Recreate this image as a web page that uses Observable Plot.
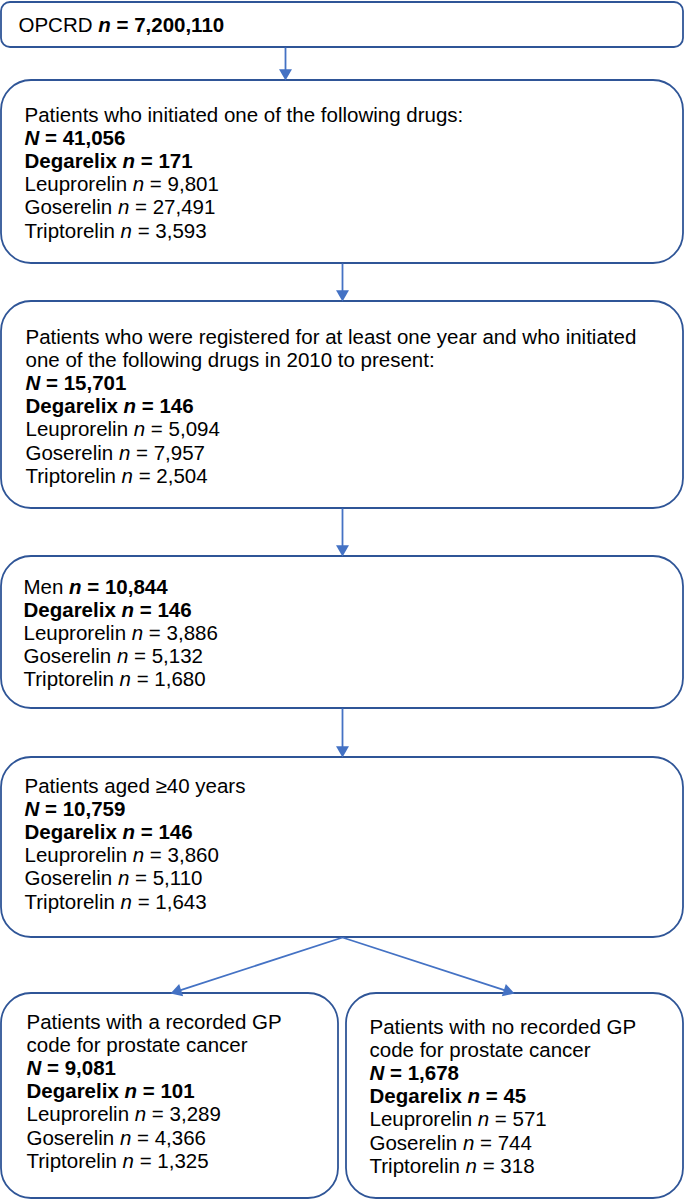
<!DOCTYPE html>
<html><head><meta charset="utf-8">
<script src="https://cdn.jsdelivr.net/npm/d3@7"></script>
<script src="https://cdn.jsdelivr.net/npm/@observablehq/plot@0.6"></script>
<style>
body{margin:0;background:#fff;}
svg text{white-space:pre;}
</style>
</head><body><div id="chart"></div>
<script>
// ---------------- data ----------------
const stageLabels = [
  ["OPCRD"],
  ["Patients who initiated one of the following drugs:"],
  ["Patients who were registered for at least one year and who initiated", "one of the following drugs in 2010 to present:"],
  ["Men"],
  ["Patients aged \u226540 years"],
  ["Patients with a recorded GP", "code for prostate cancer"],
  ["Patients with no recorded GP", "code for prostate cancer"]
];
const totalSymbol = ["n", "N", "N", "n", "N", "N", "N"];
const totalInline = [true, false, false, true, false, false, false];
const totals = [7200110, 41056, 15701, 10844, 10759, 9081, 1678];
const drugs = ["Degarelix", "Leuprorelin", "Goserelin", "Triptorelin"];
const degarelix   = [null, 171, 146, 146, 146, 101, 45];
const leuprorelin = [null, 9801, 5094, 3886, 3860, 3289, 571];
const goserelin   = [null, 27491, 7957, 5132, 5110, 4366, 744];
const triptorelin = [null, 3593, 2504, 1680, 1643, 1325, 318];
const flowFrom = [0, 1, 2, 3, 4, 4];
const flowTo   = [1, 2, 3, 4, 5, 6];

// ---------------- layout ----------------
const W = 685, H = 1201;
const LH = 23.2;
const boxStroke = "#2F5597", arrowColor = "#4472C4";
const layout = [
  {x1: 1,   x2: 683, y1: 2,   y2: 47,   r: 9,  tx: 18,  ty: 31,   inX: null, outX: 285},
  {x1: 1,   x2: 683, y1: 80,  y2: 263,  r: 30, tx: 24,  ty: 121,  inX: 285,  outX: 342},
  {x1: 1,   x2: 683, y1: 301, y2: 508,  r: 30, tx: 25,  ty: 343,  inX: 342,  outX: 342},
  {x1: 1,   x2: 683, y1: 556, y2: 708,  r: 30, tx: 23,  ty: 593,  inX: 342,  outX: 342},
  {x1: 1,   x2: 683, y1: 757, y2: 937,  r: 30, tx: 24,  ty: 792,  inX: 342,  outX: 342},
  {x1: 1,   x2: 338, y1: 993, y2: 1198, r: 30, tx: 26,  ty: 1028, inX: 170,  outX: null},
  {x1: 346, x2: 683, y1: 993, y2: 1198, r: 30, tx: 369, ty: 1033, inX: 514,  outX: null}
];

const fmt = d3.format(",");
const counts = [degarelix, leuprorelin, goserelin, triptorelin];

// text lines
const lineData = [];
stageLabels.forEach((labels, b) => {
  const L = layout[b];
  const lines = [];
  labels.forEach((t, j) => {
    if (totalInline[b] && j === labels.length - 1)
      lines.push([[t + " ", ""], [totalSymbol[b], "bi"], [" = " + fmt(totals[b]), "b"]]);
    else lines.push([[t, ""]]);
  });
  if (!totalInline[b]) lines.push([[totalSymbol[b], "bi"], [" = " + fmt(totals[b]), "b"]]);
  drugs.forEach((d, k) => {
    const v = counts[k][b];
    if (v == null) return;
    const bold = k === 0;
    lines.push([[d + " ", bold ? "b" : ""], ["n", bold ? "bi" : "i"], [" = " + fmt(v), bold ? "b" : ""]]);
  });
  lines.forEach((segs, i) => lineData.push({
    x: L.tx, y: L.ty + i * LH, segs, text: segs.map(s => s[0]).join("")
  }));
});

// arrows
const headR = 4.8;
const triHalf = Math.sqrt(Math.PI * headR * headR / (3 * Math.sqrt(3)));
const arrowData = flowFrom.map((f, i) => {
  const s = layout[f], t = layout[flowTo[i]];
  const x1 = s.outX, y1 = s.y2, x2 = t.inX, y2 = t.y1;
  const len = Math.hypot(x2 - x1, y2 - y1);
  const ux = (x2 - x1) / len, uy = (y2 - y1) / len;
  return {
    x1, y1, x2, y2,
    sx2: x2 - ux * 2 * triHalf, sy2: y2 - uy * 2 * triHalf,
    hx: x2 - ux * 2 * triHalf, hy: y2 - uy * 2 * triHalf,
    angle: Math.atan2(ux, -uy) * 180 / Math.PI
  };
});

const smallBoxes = layout.filter(d => d.r < 20);
const bigBoxes = layout.filter(d => d.r >= 20);

const plot = Plot.plot({
  width: W, height: H,
  margin: 0,
  x: {domain: [0, W], range: [0, W], axis: null},
  y: {domain: [0, H], range: [0, H], axis: null},
  style: {fontFamily: "'Liberation Sans', Arial, sans-serif", fontSize: "20.5px", background: "#fff", color: "#000"},
  marks: [
    Plot.rect(smallBoxes, {x1: "x1", x2: "x2", y1: "y1", y2: "y2", rx: 9, fill: "#fff", stroke: boxStroke, strokeWidth: 1.8}),
    Plot.rect(bigBoxes, {x1: "x1", x2: "x2", y1: "y1", y2: "y2", rx: 30, fill: "#fff", stroke: boxStroke, strokeWidth: 1.8}),
    Plot.link(arrowData, {x1: "x1", y1: "y1", x2: "sx2", y2: "sy2", stroke: arrowColor, strokeWidth: 1.8}),
    Plot.dot(arrowData, {x: "hx", y: "hy", symbol: "triangle", r: headR, fill: arrowColor, stroke: "none", rotate: "angle"}),
    Plot.text(lineData, {x: "x", y: "y", text: "text", textAnchor: "start", lineAnchor: "bottom", fontSize: 20.5, fill: "#000"})
  ]
});

plot.querySelectorAll('g[aria-label="text"] text').forEach((el, i) => {
  const d = lineData[i];
  if (!d) return;
  el.textContent = "";
  d.segs.forEach(([t, s]) => {
    const ts = document.createElementNS("http://www.w3.org/2000/svg", "tspan");
    ts.textContent = t;
    if (s.includes("b")) ts.setAttribute("font-weight", "bold");
    if (s.includes("i")) ts.setAttribute("font-style", "italic");
    el.appendChild(ts);
  });
});

document.getElementById("chart").appendChild(plot);
</script>
</body></html>
